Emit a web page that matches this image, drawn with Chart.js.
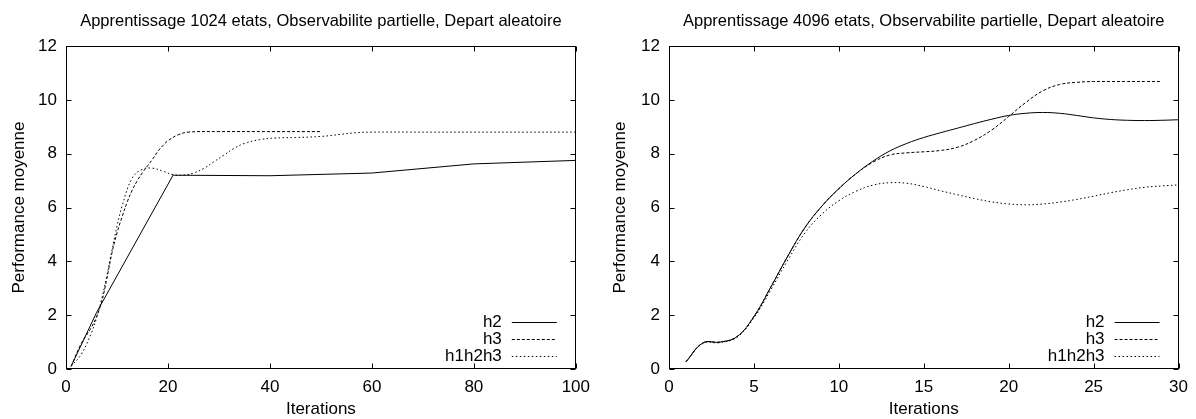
<!DOCTYPE html>
<html>
<head>
<meta charset="utf-8">
<script src="https://cdn.jsdelivr.net/npm/chart.js@4/dist/chart.umd.min.js"></script>
<style>
  body { margin: 0; background: #fff; }
  .row { display: flex; width: 1196px; height: 419px; }
  canvas { display: block; }
</style>
</head>
<body>
<div class="row">
  <canvas id="leftChart" width="598" height="419"></canvas>
  <canvas id="rightChart" width="598" height="419"></canvas>
</div>
<script>
// ========= Data =========
const seriesNames = ["h2", "h3", "h1h2h3"];
const yTicks = [0, 2, 4, 6, 8, 10, 12];

// left: 1024 etats
const leftTitle = "Apprentissage 1024 etats, Observabilite partielle, Depart aleatoire";
const leftXTicks = [0, 20, 40, 60, 80, 100];
const leftH2Iter = [1, 6, 21, 40, 60, 80, 100];
const leftH2 = [0.1, 2.1, 7.2, 7.18, 7.28, 7.62, 7.75];
const leftH3Iter = [1, 3, 5, 6, 7, 8, 9, 10, 11, 12, 13, 14, 15, 16, 17, 18, 19, 20, 22, 24, 30, 40, 50];
const leftH3 = [0.1, 0.95, 1.55, 1.95, 2.5, 3.35, 4.3, 5.05, 5.65, 6.2, 6.65, 7.0, 7.3, 7.55, 7.8, 8.08, 8.3, 8.48, 8.7, 8.8, 8.82, 8.82, 8.82];
const leftH123Iter = [1, 3, 5, 6, 7, 8, 9, 10, 11, 13, 15, 17, 19, 21, 23, 25, 27, 29, 31, 33, 35, 38, 41, 45, 50, 54, 57, 60, 70, 80, 90, 100];
const leftH123 = [0.1, 0.55, 1.35, 1.9, 2.6, 3.45, 4.4, 5.3, 6.05, 7.1, 7.42, 7.46, 7.35, 7.22, 7.2, 7.28, 7.45, 7.7, 7.95, 8.2, 8.38, 8.52, 8.58, 8.6, 8.64, 8.72, 8.78, 8.8, 8.8, 8.8, 8.8, 8.8];

// right: 4096 etats
const rightTitle = "Apprentissage 4096 etats, Observabilite partielle, Depart aleatoire";
const rightXTicks = [0, 5, 10, 15, 20, 25, 30];
const rightIter = [1, 2, 3, 4, 5, 6, 7, 8, 9, 10, 11, 12, 13, 14, 15, 16, 17, 18, 19, 20, 21, 22, 23, 24, 25, 26, 27, 28, 29, 30];
const rightH2 = [0.27, 0.97, 1.0, 1.2, 1.95, 3.05, 4.2, 5.25, 6.05, 6.7, 7.25, 7.72, 8.1, 8.38, 8.6, 8.78, 8.95, 9.12, 9.28, 9.42, 9.5, 9.53, 9.5, 9.42, 9.33, 9.27, 9.24, 9.23, 9.24, 9.26];
const rightH3 = [0.27, 0.97, 1.0, 1.2, 1.95, 3.05, 4.2, 5.25, 6.05, 6.7, 7.25, 7.68, 7.95, 8.03, 8.07, 8.12, 8.24, 8.5, 8.88, 9.38, 9.9, 10.33, 10.57, 10.65, 10.68, 10.68, 10.68, 10.68, 10.68];
const rightH123 = [0.27, 0.95, 0.98, 1.18, 1.9, 2.95, 4.05, 5.05, 5.75, 6.25, 6.6, 6.83, 6.92, 6.9, 6.78, 6.62, 6.47, 6.33, 6.21, 6.13, 6.1, 6.13, 6.2, 6.3, 6.42, 6.55, 6.66, 6.75, 6.8, 6.84];

// ========= Helpers =========
const FONT = "'Liberation Sans', Arial, Helvetica, sans-serif";
Chart.defaults.color = "#000";
Chart.defaults.font.family = FONT;
Chart.defaults.font.size = 17;

function toPoints(xs, ys) {
    return ys.map((v, i) => ({ x: xs[i], y: v }));
}

function line(label, xs, ys, dash, smooth) {
    return {
        label: label,
        data: toPoints(xs, ys),
        borderColor: "#000",
        borderWidth: 1,
        borderDash: dash,
        pointRadius: 0,
        fill: false,
        tension: smooth ? 0.4 : 0,
    };
}

// gnuplot-like frame, inward ticks, title and in-plot legend
const gnuplotLook = {
    id: "gnuplotLook",
    afterDatasetsDraw(chart, args, opts) {
        const { ctx, chartArea: a, scales } = chart;
        const L = Math.round(a.left) + 0.5, R = Math.round(a.right) - 0.5;
        const T = Math.round(a.top) + 0.5, B = Math.round(a.bottom) - 0.5;
        ctx.save();
        ctx.strokeStyle = "#000";
        ctx.lineWidth = 1;
        ctx.setLineDash([]);
        ctx.strokeRect(L, T, R - L, B - T);
        ctx.beginPath();
        scales.x.ticks.forEach(t => {
            const px = Math.round(scales.x.getPixelForValue(t.value)) + 0.5;
            ctx.moveTo(px, B); ctx.lineTo(px, B - 5);
            ctx.moveTo(px, T); ctx.lineTo(px, T + 5);
        });
        scales.y.ticks.forEach(t => {
            const py = Math.round(scales.y.getPixelForValue(t.value)) + 0.5;
            ctx.moveTo(L, py); ctx.lineTo(L + 5, py);
            ctx.moveTo(R, py); ctx.lineTo(R - 5, py);
        });
        ctx.stroke();

        // title
        ctx.fillStyle = "#000";
        ctx.font = "16.5px " + FONT;
        ctx.textAlign = "center";
        ctx.textBaseline = "middle";
        ctx.fillText(opts.title, (a.left + a.right) / 2, 21);

        // legend, bottom right inside the plot
        ctx.font = "17px " + FONT;
        ctx.textAlign = "right";
        const n = chart.data.datasets.length;
        chart.data.datasets.forEach((ds, i) => {
            const y = Math.round(a.bottom - 13 - 17 * (n - 1 - i)) + 0.5;
            const x1 = a.right - 19, x0 = x1 - 45;
            ctx.fillText(ds.label, x0 - 10, y);
            ctx.setLineDash(ds.borderDash || []);
            ctx.beginPath();
            ctx.moveTo(x0, y); ctx.lineTo(x1, y);
            ctx.stroke();
        });
        ctx.restore();
    },
};

function makeChart(id, title, datasets, xMax, xStep, yWidth, yTitlePad, padRight) {
    return new Chart(document.getElementById(id), {
        type: "line",
        data: { datasets: datasets },
        plugins: [gnuplotLook],
        options: {
            responsive: false,
            animation: false,
            layout: { padding: { top: 46, right: padRight, bottom: 0, left: 0 } },
            plugins: {
                legend: { display: false },
                title: { display: false },
                tooltip: { enabled: false },
                gnuplotLook: { title: title },
            },
            scales: {
                x: {
                    type: "linear",
                    min: 0,
                    max: xMax,
                    grid: { display: false, drawTicks: false },
                    border: { display: false },
                    ticks: { stepSize: xStep, padding: 8, maxRotation: 0 },
                    title: {
                        display: true,
                        text: "Iterations",
                        font: { size: 17, lineHeight: 1 },
                        padding: { top: 0, bottom: 1 },
                    },
                    afterFit: s => { s.height = 50; },
                },
                y: {
                    min: 0,
                    max: 12,
                    grid: { display: false, drawTicks: false },
                    border: { display: false },
                    ticks: { stepSize: 2, padding: 9 },
                    title: { display: true, text: "Performance moyenne", padding: { top: yTitlePad, bottom: 0 } },
                    afterFit: s => { s.width = yWidth; },
                },
            },
        },
    });
}

// ========= Left: 1024 etats =========
makeChart("leftChart", leftTitle, [
    line(seriesNames[0], leftH2Iter, leftH2, [], false),
    line(seriesNames[1], leftH3Iter, leftH3, [3, 2], true),
    line(seriesNames[2], leftH123Iter, leftH123, [1.5, 2.5], true),
], leftXTicks[leftXTicks.length - 1], leftXTicks[1] - leftXTicks[0], 66, 9, 21);

// ========= Right: 4096 etats =========
makeChart("rightChart", rightTitle, [
    line(seriesNames[0], rightIter, rightH2, [], true),
    line(seriesNames[1], rightIter.slice(0, rightH3.length), rightH3, [3, 2], true),
    line(seriesNames[2], rightIter, rightH123, [1.5, 2.5], true),
], rightXTicks[rightXTicks.length - 1], rightXTicks[1] - rightXTicks[0], 71, 12, 17);
</script>
</body>
</html>
